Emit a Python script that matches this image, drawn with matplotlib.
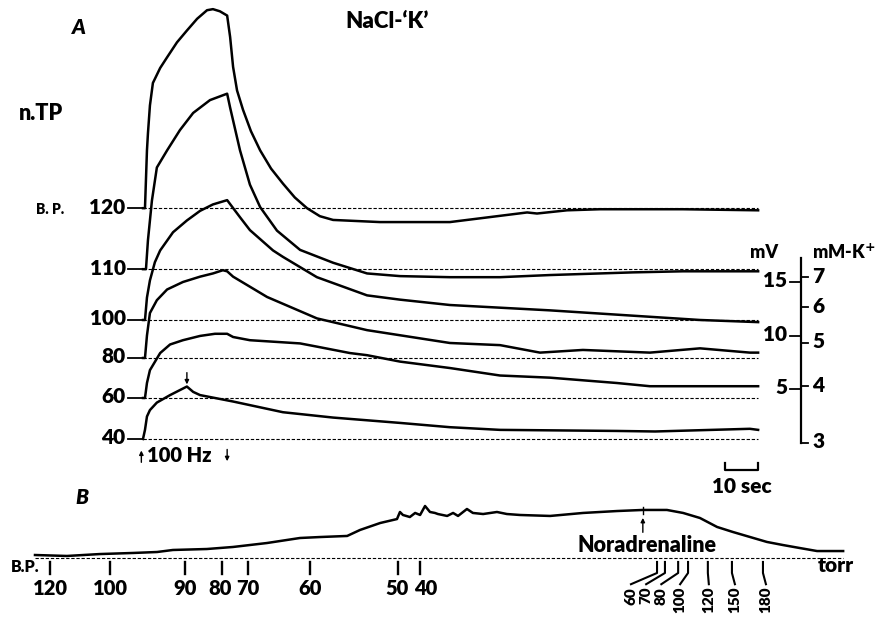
import numpy as np
import matplotlib.pyplot as plt

plt.rcParams['font.family'] = ['Lato', 'DejaVu Sans']
plt.rcParams['font.weight'] = 'heavy'

W, H = 883, 619

# ---- Panel A: n.TP responses (mV) to a 100 Hz train at several blood pressures (torr)
bp_levels = [120, 110, 100, 80, 60, 40]

t_120 = [0, 0.6, 1.2, 1.5, 2.1, 3.0, 5.2, 7.3, 10.3, 13.3, 16.4, 19.4, 21.2, 23.3, 25.5,
         26.4, 27.3, 28.5, 30.3, 32.7, 35.5, 38.8, 42.4, 46.0, 49.7, 53.6, 57.6, 71.8, 93.0,
         116.4, 119.4, 128.5, 138.5, 163.6, 186.4]
v_120 = [0, 0, 5.4, 7.0, 9.6, 11.7, 13.1, 14.1, 15.5, 16.6, 17.7, 18.5, 18.6, 18.4, 18.0,
         16.0, 13.2, 11.0, 9.2, 7.2, 5.4, 3.7, 2.3, 1.0, 0.0, -0.75, -1.1, -1.3, -1.3,
         -0.4, -0.5, -0.2, -0.1, -0.1, -0.2]

t_110 = [0, 0.9, 1.5, 2.7, 4.2, 7.3, 11.2, 15.2, 20.3, 25.5, 26.4, 29.4, 32.4, 35.5, 40.6,
         47.6, 57.6, 67.9, 77.9, 93.0, 108.2, 123.3, 148.5, 163.6, 186.4]
v_110 = [0, 0, 2.7, 6.4, 9.5, 11.1, 13.0, 14.6, 15.8, 16.4, 15.1, 11.1, 7.9, 5.8, 3.6,
         1.8, 0.6, -0.4, -0.65, -0.75, -0.75, -0.55, -0.3, -0.2, -0.2]

t_100 = [0, 0.6, 1.2, 2.1, 3.6, 5.2, 9.1, 13.3, 17.3, 21.2, 25.5, 29.4, 32.4, 39.4, 42.4,
         52.7, 67.9, 77.9, 93.0, 123.3, 153.6, 168.8, 186.4]
v_100 = [0, 0, 2.1, 3.7, 5.4, 6.5, 8.2, 9.3, 10.2, 10.8, 11.2, 9.6, 8.4, 6.5, 5.9,
         4.0, 2.3, 1.9, 1.4, 0.9, 0.3, 0.0, -0.2]

t_80 = [0, 0.6, 1.2, 2.1, 4.2, 7.3, 12.1, 17.3, 21.2, 24.2, 25.5, 27.3, 37.6, 52.7, 67.9,
        93.0, 108.2, 120.3, 133.3, 153.6, 168.8, 183.9, 186.4]
v_80 = [0, 0, 2.1, 4.2, 5.4, 6.4, 7.1, 7.6, 7.9, 8.2, 8.1, 7.6, 5.7, 3.7, 2.6,
        1.4, 1.2, 0.5, 0.75, 0.5, 0.9, 0.5, 0.5]

t_60 = [0, 0.6, 1.2, 2.1, 5.2, 8.2, 12.1, 17.3, 21.8, 25.5, 27.3, 32.4, 47.6, 52.7, 62.7,
        67.9, 77.9, 93.0, 108.2, 123.3, 143.6, 153.6, 186.4]
v_60 = [0, 0, 1.4, 2.6, 4.2, 5.0, 5.4, 5.8, 6.0, 6.0, 5.7, 5.4, 5.1, 4.8, 4.2,
        4.0, 3.4, 2.8, 2.1, 1.9, 1.4, 1.1, 1.1]

t_40 = [0, 0.6, 1.2, 2.1, 4.2, 8.2, 13.3, 15.2, 17.3, 27.3, 42.4, 57.6, 77.9, 93.0, 108.2,
        143.6, 155.2, 183.9, 186.4]
v_40 = [0, 0.85, 2.1, 2.7, 3.4, 4.1, 4.9, 4.4, 4.1, 3.5, 2.5, 2.0, 1.5, 1.1, 0.85,
        0.75, 0.7, 0.95, 0.85]

stim_end = 25.5      # end of 100 Hz train (s)
stim_end_40 = 13.3   # shorter train at 40 torr
t_end = 186.4

cal_mv = [5, 10, 15]
cal_k = [3, 4, 5, 6, 7]     # mM K+
k_slope = 42.0              # mV per decade K+

# ---- Panel B: slow record, BP marks (torr)
tb = [10.6, 20.3, 30.3, 40.3, 47.6, 52.4, 62.7, 70.6, 80.9, 90.9, 97.0, 105.2, 109.1, 115.2,
      120.3, 121.2, 122.1, 124.2, 125.8, 127.3, 128.8, 130.3, 131.8, 132.7, 135.5, 137.3,
      138.8, 141.5, 143.3, 146.4, 150.6, 153.6, 157.6, 166.7, 176.7, 187.0, 194.8, 202.1,
      207.0, 212.1, 217.3, 222.1, 227.3, 232.4, 237.3, 242.4, 247.6, 255.5]
vb = [0.28, 0.19, 0.37, 0.47, 0.56, 0.75, 0.84, 1.03, 1.40, 1.87, 1.96, 2.06, 2.62, 3.27,
      3.64, 4.30, 4.02, 3.83, 4.21, 4.02, 4.86, 4.30, 4.21, 4.11, 3.93, 4.21, 3.93, 4.58,
      4.21, 4.11, 4.30, 4.11, 4.02, 3.93, 4.21, 4.39, 4.49, 4.49, 4.21, 3.74, 2.90, 2.43,
      1.96, 1.50, 1.21, 0.93, 0.65, 0.65]

bp_b_left = [120, 100, 90, 80, 70, 60, 50, 40]
bp_b_left_t = [15.2, 33.3, 56.1, 67.3, 75.2, 93.9, 120.6, 127.3]
bp_b_right = [60, 70, 80, 100, 120, 150, 180]
bp_b_right_t = [199.1, 201.5, 205.5, 208.5, 214.5, 221.8, 231.2]
noradr_t = 194.8

# layout: vertical offsets of the stacked runs (mV), label x positions in panel B
offsets = [21.9, 16.2, 11.45, 7.9, 4.16, 0.33]
left_label_t = [15.2, 33.6, 56.1, 66.7, 75.2, 93.9, 120.4, 129.1]
right_label_t = [191.2, 195.8, 200.4, 206.1, 214.8, 222.7, 232.1]

traces = [(t_120, v_120), (t_110, v_110), (t_100, v_100),
          (t_80, v_80), (t_60, v_60), (t_40, v_40)]

fig = plt.figure(figsize=(W / 100, H / 100), dpi=100)
# 3.3 px per second, 10.7 px per mV
axA = fig.add_axes([0, 0, 1, 1])
axA.set_xlim(-143 / 3.3, (W - 143) / 3.3)
axA.set_ylim((442.5 - H) / 10.7, 442.5 / 10.7)
axB = fig.add_axes([0, 0, 1, 1])
axB.set_xlim(0, W / 3.3)
axB.set_ylim((558 - H) / 10.7, 558 / 10.7)
for ax in (axA, axB):
    ax.axis('off')
    ax.patch.set_visible(False)

dash = (0, (3, 1.6))
num_fs = 15
lw_trace = 1.8


def ptext(x, y, s, **kw):
    # text placed in pixel coords of the reference
    kw.setdefault('ha', 'center')
    kw.setdefault('va', 'center')
    fig.text(x / W, 1 - y / H, s, **kw)


# runs
for bp, (t, v), off in zip(bp_levels, traces, offsets):
    axA.plot([0, t_end], [off, off], color='k', lw=0.8, ls=dash)
    axA.plot(t, np.array(v) + off, color='k', lw=lw_trace, solid_joinstyle='round')
    axA.plot([-4.6, 0], [off, off], color='k', lw=1.3)
    axA.text(-5.3, off + 0.1, str(bp), ha='right', va='center', fontsize=num_fs)

ptext(79, 28, 'A', fontsize=15, style='italic')
ptext(387, 21, 'NaCl-‘K’', fontsize=16)
ptext(41, 113, 'n.TP', fontsize=15.5)
ptext(50, 209, 'B. P.', fontsize=10)

# stimulus markers
arrow = dict(arrowstyle='-|>', lw=1.0, color='k', mutation_scale=6, shrinkA=0, shrinkB=0)
axA.annotate('', xy=(-0.5, -0.75), xytext=(-0.5, -1.85), arrowprops=arrow)
axA.annotate('', xy=(stim_end, -1.75), xytext=(stim_end, -0.65), arrowprops=arrow)
pk40 = offsets[-1] + max(v_40)
axA.annotate('', xy=(stim_end_40, pk40 + 0.2), xytext=(stim_end_40, pk40 + 1.3), arrowprops=arrow)
ptext(147, 455, '100 Hz', fontsize=14.5, ha='left')

# calibration: mV and mM-K+
t_cal = 199.4
axA.plot([t_cal, t_cal], [0, 17.2], color='k', lw=1.6)
for mv in cal_mv:
    axA.plot([t_cal - 3.2, t_cal], [mv, mv], color='k', lw=1.3)
    axA.text(t_cal - 4.2, mv + 0.1, str(mv), ha='right', va='center', fontsize=num_fs)
for k in cal_k:
    kv = k_slope * np.log10(k / cal_k[0])
    axA.plot([t_cal, t_cal + 2.2], [kv, kv], color='k', lw=1.3)
    axA.text(t_cal + 3.4, kv + 0.1, str(k), ha='left', va='center', fontsize=num_fs)
ptext(764, 253, 'mV', fontsize=13)
ptext(812, 252, 'mM-K$^{+}$', fontsize=13, ha='left')

# 10 s time bar
tb0 = t_end - 10
axA.plot([tb0, tb0, t_end, t_end], [-1.9, -2.57, -2.57, -1.9], color='k', lw=1.6)
axA.text((tb0 + t_end) / 2, -4.1, '10 sec', ha='center', va='center', fontsize=15)

# ---- panel B
ptext(82, 497, 'B', fontsize=15, style='italic')
axB.plot([tb[0], tb[-1]], [0, 0], color='k', lw=0.8, ls=dash)
axB.plot(tb, vb, color='k', lw=lw_trace, solid_joinstyle='round')
ptext(25, 567, 'B.P.', fontsize=11.5)
for bp, t, lt in zip(bp_b_left, bp_b_left_t, left_label_t):
    axB.plot([t, t], [-0.37, -1.5], color='k', lw=1.7)
    axB.text(lt, -2.85, str(bp), ha='center', va='center', fontsize=14.5)
for bp, t, lt in zip(bp_b_right, bp_b_right_t, right_label_t):
    axB.plot([t, t, lt], [-0.37, -1.4, -2.45], color='k', lw=1.5)
    axB.text(lt, -2.7, str(bp), ha='center', va='top', rotation=90, fontsize=11,
             linespacing=0.9)
ptext(836, 566, 'torr', fontsize=15)

# noradrenaline injection
axB.plot([noradr_t, noradr_t], [4.1, 4.8], color='k', lw=1.0)
axB.annotate('', xy=(noradr_t, 3.75), xytext=(noradr_t, 2.4), arrowprops=arrow)
ptext(647, 545, 'Noradrenaline', fontsize=15.5)

fig.savefig('out.png', dpi=100)
